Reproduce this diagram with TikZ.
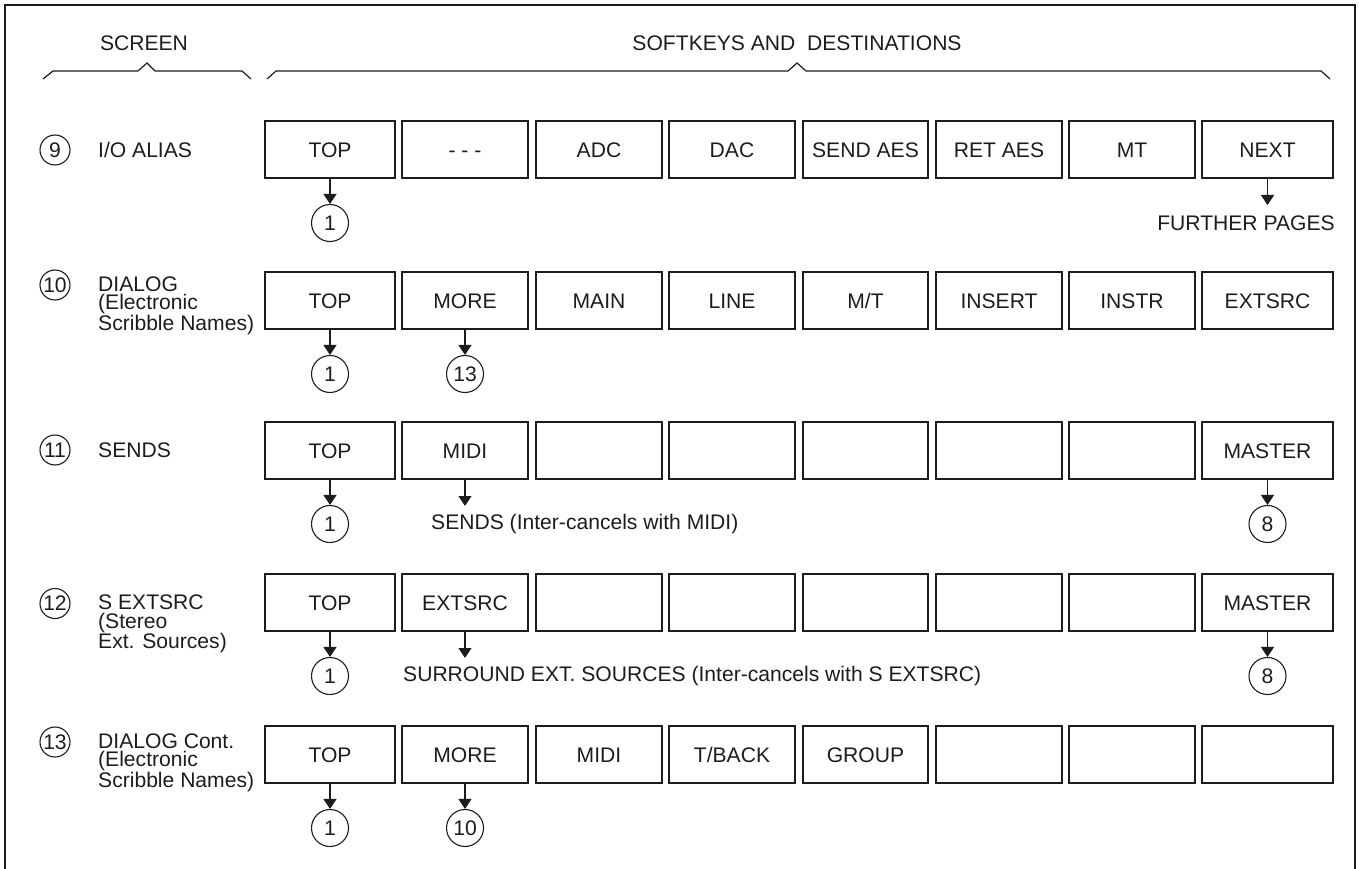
\documentclass[tikz,border=0pt]{standalone}
\usepackage{fontspec}
\setmainfont{Liberation Sans}
\usetikzlibrary{arrows.meta}
\definecolor{ink}{HTML}{1C1C1C}
\begin{document}
\begin{tikzpicture}[x=1pt,y=-1pt,
  font=\fontsize{21.1}{18.5}\selectfont,
  every node/.style={text=ink},
  keybox/.style={draw=ink, line width=1.2pt, inner sep=0pt, minimum height=57pt, text height=15.2pt, text depth=0pt},
  dest/.style={circle, draw=ink, line width=1.1pt, minimum size=37pt, inner sep=0pt},
  scr/.style={circle, draw=ink, line width=1.1pt, minimum size=30pt, inner sep=0pt},
  arr/.style={draw=ink, line width=1.2pt, -{Triangle[width=13pt,length=10pt]}},
  lbl/.style={anchor=west, align=left, inner sep=0pt},
  brace/.style={draw=ink, line width=1.2pt},
  frame/.style={draw=ink, line width=1.3pt}]
\useasboundingbox (0,0) rectangle (1359,869);
\def\cx{{330,465,599,732,865.5,999,1132,1267.5}}
\def\cw{{130,126,126,126,125,126,126,131}}
% frame
\draw[frame] (5,869) -- (5,5) -- (1355,5) -- (1355,869);
% headings
\node (hscreen) at (144,43) {SCREEN};
\node (hsoft) at (797,43) {SOFTKEYS AND\ \ DESTINATIONS};
\draw[brace] (43,79) -- (53,71) -- (138,71) -- (147,63) -- (155,71) -- (242,71) -- (251,79);
\draw[brace] (267,79) -- (276,71) -- (788,71) -- (797,63) -- (806,71) -- (1321,71) -- (1330,79);
% key rows
\foreach \r/\yc/\lst in {
  9/149.5/{TOP,- - -,ADC,DAC,SEND AES,RET AES,MT,NEXT},
  10/300.5/{TOP,MORE,MAIN,LINE,M/T,INSERT,INSTR,EXTSRC},
  11/450.5/{TOP,MIDI,{},{},{},{},{},MASTER},
  12/602.5/{TOP,EXTSRC,{},{},{},{},{},MASTER},
  13/754.5/{TOP,MORE,MIDI,T/BACK,GROUP,{},{},{}}}{
  \foreach [count=\c] \t in \lst {
    \pgfmathsetmacro\xx{\cx[\c-1]}
    \pgfmathsetmacro\ww{\cw[\c-1]}
    \node[keybox, minimum width=\ww pt] (k\r-\c) at (\xx,\yc) {\t};
  }
}
% screen labels
\node[scr] (s9) at (55,150) {9};
\node[lbl] (t9) at (98,150) {I/O ALIAS};
\node[scr] (s10) at (55,285) {10};
\node[lbl] (t10) at (98,305.5) {DIALOG\\(Electronic\\Scribble Names)};
\node[scr] (s11) at (55,450) {11};
\node[lbl] (t11) at (98,450) {SENDS};
\node[scr] (s12) at (55,603.5) {12};
\node[lbl] (t12) at (98,624) {S EXTSRC\\(Stereo\\Ext. Sources)};
\node[scr] (s13) at (55,742) {13};
\node[lbl] (t13) at (98,762.5) {DIALOG Cont.\\(Electronic\\Scribble Names)};
% destinations
\node[dest] (d9-1) at (330,223) {1};
\coordinate (f9) at (1267.5,205);
\node (further) at (1246,223) {FURTHER PAGES};
\node[dest] (d10-1) at (330,374) {1};
\node[dest] (d10-2) at (465,374) {13};
\node[dest] (d11-1) at (330,524) {1};
\coordinate (f11) at (465,506);
\node[lbl] (n11) at (431,524) {SENDS (Inter-cancels with MIDI)};
\node[dest] (d11-8) at (1267.5,524) {8};
\node[dest] (d12-1) at (330,676) {1};
\coordinate (f12) at (465,658);
\node[lbl] (n12) at (403,676) {SURROUND EXT. SOURCES (Inter-cancels with S EXTSRC)};
\node[dest] (d12-8) at (1267.5,676) {8};
\node[dest] (d13-1) at (330,828) {1};
\node[dest] (d13-2) at (465,828) {10};
% arrows
\draw[arr] (k9-1.south) -- (d9-1.north);
\draw[arr] (k9-8.south) -- (f9);
\draw[arr] (k10-1.south) -- (d10-1.north);
\draw[arr] (k10-2.south) -- (d10-2.north);
\draw[arr] (k11-1.south) -- (d11-1.north);
\draw[arr] (k11-2.south) -- (f11);
\draw[arr] (k11-8.south) -- (d11-8.north);
\draw[arr] (k12-1.south) -- (d12-1.north);
\draw[arr] (k12-2.south) -- (f12);
\draw[arr] (k12-8.south) -- (d12-8.north);
\draw[arr] (k13-1.south) -- (d13-1.north);
\draw[arr] (k13-2.south) -- (d13-2.north);
\end{tikzpicture}
\end{document}
